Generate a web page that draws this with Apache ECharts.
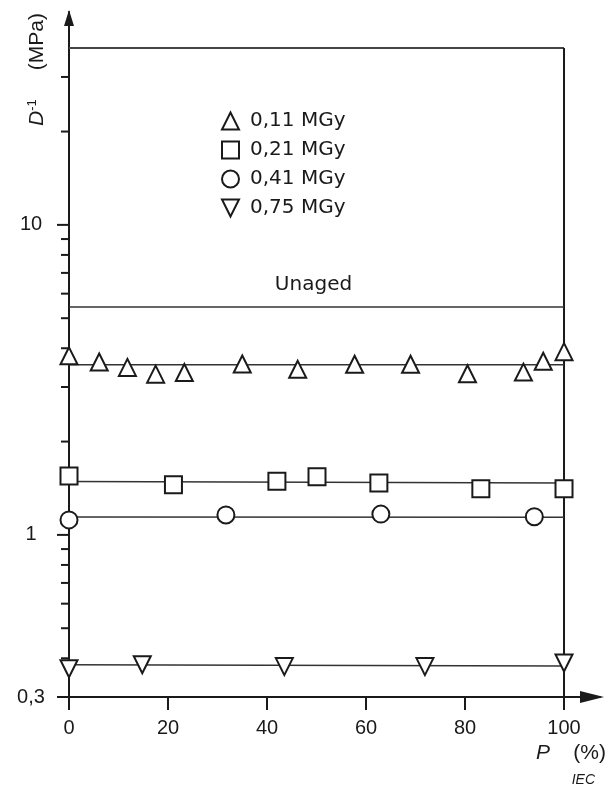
<!DOCTYPE html>
<html>
<head>
<meta charset="utf-8">
<script src="https://cdn.jsdelivr.net/npm/echarts@6/dist/echarts.min.js"></script>
<style>
html,body{margin:0;padding:0;background:#fff;}
#chart{width:606px;height:789px;}
</style>
</head>
<body>
<div id="chart"></div>
<script>
// ---- data ----
const xTickValues = [0, 20, 40, 60, 80, 100];
const xTickLabels = ['0', '20', '40', '60', '80', '100'];
const yMajorTickValues = [0.3, 1, 10];
const yMajorTickLabels = ['0,3', '1', '10'];
const yMinorTickValues = [0.4, 0.5, 0.6, 0.7, 0.8, 0.9, 2, 3, 4, 5, 6, 7, 8, 9, 20, 30];

const seriesNames = ['0,11 MGy', '0,21 MGy', '0,41 MGy', '0,75 MGy'];

const p011 = [0, 6.1, 11.8, 17.5, 23.3, 35, 46.2, 57.7, 69, 80.5, 91.8, 95.8, 100];
const v011 = [3.78, 3.61, 3.47, 3.30, 3.34, 3.56, 3.42, 3.55, 3.55, 3.31, 3.35, 3.63, 3.90];
const p021 = [0, 21.1, 42, 50.1, 62.6, 83.2, 100];
const v021 = [1.55, 1.45, 1.49, 1.54, 1.47, 1.41, 1.41];
const p041 = [0, 31.7, 63, 94];
const v041 = [1.118, 1.16, 1.167, 1.145];
const p075 = [0, 14.8, 43.5, 71.9, 100];
const v075 = [0.370, 0.381, 0.376, 0.376, 0.386];

const fitX = [0, 100];
const fit011 = [3.54, 3.54];
const fit021 = [1.486, 1.47];
const fit041 = [1.143, 1.14];
const fit075 = [0.381, 0.378];
const fitUnaged = [5.43, 5.43];

const frameTop = 37.2;
const frameRight = 100;
const yMin = 0.3, yMax = 48.6;
const xMin = 0, xMax = 107.27;

// ---- build ----
const zip = (xs, ys) => xs.map((x, i) => [x, ys[i]]);
const ink = '#1a1a1a';
const tickFont = '"Liberation Sans", Arial, sans-serif';
const downTriangle = 'path://M0,0 L20,0 L10,20 Z';

const hollow = { color: '#fff', borderColor: ink, borderWidth: 2, opacity: 1 };
function scatter(name, xs, ys, symbol, size) {
  return {
    name, type: 'scatter', data: zip(xs, ys), symbol, symbolSize: size,
    itemStyle: hollow, z: 5, silent: true
  };
}
function fitLine(ys, color, width) {
  return {
    type: 'line', data: zip(fitX, ys), showSymbol: false, symbol: 'none',
    lineStyle: { color: color || '#333', width: width || 1.5 }, z: 3, silent: true
  };
}

const chart = echarts.init(document.getElementById('chart'), null, { renderer: 'canvas' });

const option = {
  animation: false,
  backgroundColor: '#fff',
  grid: { left: 69, top: 12, right: 6, bottom: 92 },
  xAxis: {
    type: 'value', min: xMin, max: xMax,
    axisLine: { show: true, symbol: ['none', 'triangle'], symbolSize: [12, 24], symbolOffset: [0, -8], lineStyle: { color: ink, width: 2 } },
    axisTick: { show: false }, axisLabel: { show: false }, splitLine: { show: false }
  },
  yAxis: {
    type: 'log', logBase: 10, min: yMin, max: yMax,
    axisLine: { show: true, symbol: ['none', 'triangle'], symbolSize: [10, 16], symbolOffset: [0, -6], lineStyle: { color: ink, width: 2 } },
    axisTick: { show: false }, axisLabel: { show: false }, splitLine: { show: false }
  },
  legend: {
    orient: 'vertical', left: 221, top: 111, itemWidth: 17, itemHeight: 17, itemGap: 9,
    padding: 0, data: seriesNames,
    itemStyle: { color: '#fff', borderColor: ink, borderWidth: 2 },
    textStyle: { fontSize: 20, fontFamily: '"DejaVu Sans", sans-serif', color: ink, padding: [0, 0, 0, 6] }
  },
  graphic: [
    { type: 'text', x: 313.5, y: 285, silent: true,
      style: { text: 'Unaged', fontSize: 20, fontFamily: '"DejaVu Sans", sans-serif', fill: ink, align: 'center', verticalAlign: 'middle' } },
    { type: 'text', x: 37, y: 69.5, rotation: Math.PI / 2, silent: true,
      style: { text: '{i|D}{s|-1}     (MPa)', fontSize: 21, fontFamily: tickFont, fill: ink, align: 'center', verticalAlign: 'middle',
        rich: { i: { fontStyle: 'italic', fontSize: 21, fontFamily: tickFont, fill: ink },
                s: { fontSize: 13, fontFamily: tickFont, fill: ink, padding: [0, 0, 10, 0] } } } },
    { type: 'text', x: 536, y: 753, silent: true,
      style: { text: '{i|P}    (%)', fontSize: 21, fontFamily: tickFont, fill: ink, align: 'left', verticalAlign: 'middle',
        rich: { i: { fontStyle: 'italic', fontSize: 21, fontFamily: tickFont, fill: ink } } } },
    { type: 'text', x: 595, y: 780, silent: true,
      style: { text: 'IEC', fontSize: 14, fontStyle: 'italic', fontFamily: tickFont, fill: ink, align: 'right', verticalAlign: 'middle' } }
  ],
  series: [
    // frame
    { type: 'line', data: [[0, frameTop], [frameRight, frameTop]], symbol: 'none', lineStyle: { color: '#444', width: 2 }, silent: true, z: 2 },
    { type: 'line', data: [[frameRight, yMin], [frameRight, frameTop]], symbol: 'none', lineStyle: { color: ink, width: 2 }, silent: true, z: 2 },
    // fit lines
    fitLine(fitUnaged, '#333', 1.5),
    fitLine(fit011), fitLine(fit021), fitLine(fit041), fitLine(fit075),
    // points
    scatter(seriesNames[0], p011, v011, 'triangle', 17),
    scatter(seriesNames[1], p021, v021, 'rect', 17),
    scatter(seriesNames[2], p041, v041, 'circle', 17),
    scatter(seriesNames[3], p075, v075, downTriangle, 17),
    // x ticks and labels
    { type: 'custom', silent: true, z: 4, clip: false,
      data: xTickValues.map((v, i) => [v, i]),
      renderItem: (params, api) => {
        const p = api.coord([api.value(0), yMin]);
        return { type: 'group', children: [
          { type: 'line', shape: { x1: p[0], y1: p[1], x2: p[0], y2: p[1] + 13 }, style: { stroke: ink, lineWidth: 2 } },
          { type: 'text', x: p[0], y: p[1] + 31, style: { text: xTickLabels[api.value(1)], fontSize: 20, fontFamily: tickFont, fill: ink, align: 'center', verticalAlign: 'middle' } }
        ] };
      } },
    // y major ticks and labels
    { type: 'custom', silent: true, z: 4, clip: false,
      data: yMajorTickValues.map((v, i) => [xMin, v, i]),
      renderItem: (params, api) => {
        const p = api.coord([xMin, api.value(1)]);
        return { type: 'group', children: [
          { type: 'line', shape: { x1: p[0] - 12, y1: p[1], x2: p[0], y2: p[1] }, style: { stroke: ink, lineWidth: 2 } },
          { type: 'text', x: p[0] - 38, y: p[1], style: { text: yMajorTickLabels[api.value(2)], fontSize: 20, fontFamily: tickFont, fill: ink, align: 'center', verticalAlign: 'middle' } }
        ] };
      } },
    // y minor ticks
    { type: 'custom', silent: true, z: 4, clip: false,
      data: yMinorTickValues.map(v => [xMin, v]),
      renderItem: (params, api) => {
        const p = api.coord([xMin, api.value(1)]);
        return { type: 'line', shape: { x1: p[0] - 8, y1: p[1], x2: p[0], y2: p[1] }, style: { stroke: ink, lineWidth: 2 } };
      } }
  ]
};
chart.setOption(option);
</script>
</body>
</html>
